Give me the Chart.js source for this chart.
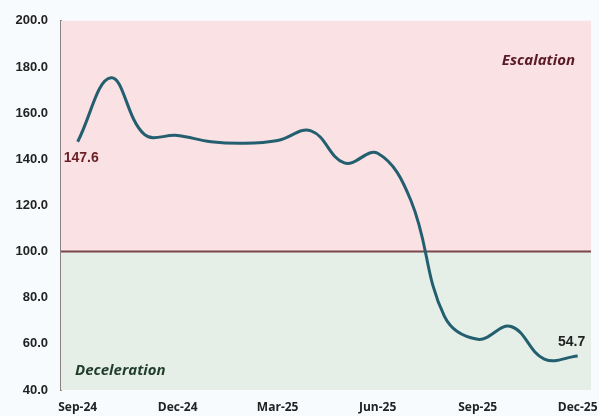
<!DOCTYPE html>
<html>
<head>
<meta charset="utf-8">
<script src="https://cdn.jsdelivr.net/npm/chart.js@4/dist/chart.umd.min.js"></script>
<style>
  html, body { margin: 0; padding: 0; background: #f7fbfd; }
  #wrap { width: 599px; height: 416px; position: relative; }
</style>
</head>
<body>
<div id="wrap"><canvas id="c" width="599" height="416"></canvas></div>
<script>
// Monthly index readings, Sep-24 through Dec-25
const months = ['Sep-24','Oct-24','Nov-24','Dec-24','Jan-25','Feb-25','Mar-25','Apr-25',
                'May-25','Jun-25','Jul-25','Aug-25','Sep-25','Oct-25','Nov-25','Dec-25'];
const indexValues = [147.6, 175.3, 150.8, 150.3, 147.6, 146.9, 148.1, 152.3,
                     138.4, 142.6, 122.0, 72.0, 62.0, 67.5, 53.4, 54.7];
const threshold = 100;
const yTicks = [40, 60, 80, 100, 120, 140, 160, 180, 200];
const xTickEvery = 3;
const zoneLabels = ['Escalation', 'Deceleration'];

// Shaded zones above/below the threshold plus the threshold line itself
const zonesPlugin = {
  id: 'zones',
  beforeDatasetsDraw(chart) {
    const { ctx, chartArea: a, scales: { y } } = chart;
    const yT = y.getPixelForValue(threshold);
    const yTop = y.getPixelForValue(y.max);
    const yBot = y.getPixelForValue(y.min);
    ctx.save();
    ctx.fillStyle = '#f9e1e4';
    ctx.fillRect(a.left, yTop, a.right - a.left, yT - yTop);
    ctx.fillStyle = '#e5efe8';
    ctx.fillRect(a.left, yT, a.right - a.left, yBot - yT);
    ctx.strokeStyle = '#7a4646';
    ctx.lineWidth = 2;
    ctx.beginPath();
    ctx.moveTo(a.left, yT);
    ctx.lineTo(a.right, yT);
    ctx.stroke();
    // zone captions
    ctx.font = 'italic bold 15px "Open Sans", sans-serif';
    ctx.textBaseline = 'middle';
    ctx.fillStyle = '#5a1a24';
    ctx.textAlign = 'right';
    ctx.fillText(zoneLabels[0], a.right - 16, yTop + 40);
    ctx.fillStyle = '#1f3d28';
    ctx.textAlign = 'left';
    ctx.fillText(zoneLabels[1], a.left + 14, yBot - 19);
    ctx.restore();
  },
  afterDatasetsDraw(chart) {
    // first and last value callouts
    const { ctx } = chart;
    const pts = chart.getDatasetMeta(0).data;
    const first = pts[0], last = pts[pts.length - 1];
    ctx.save();
    ctx.font = 'bold 14px "Liberation Sans", Arial, sans-serif';
    ctx.textBaseline = 'middle';
    ctx.fillStyle = '#6b1f25';
    ctx.textAlign = 'left';
    ctx.fillText(indexValues[0].toFixed(1), first.x - 14, first.y + 16);
    ctx.fillStyle = '#222';
    ctx.textAlign = 'center';
    ctx.fillText(indexValues[indexValues.length - 1].toFixed(1), last.x - 6, last.y - 14);
    ctx.restore();
  }
};

new Chart(document.getElementById('c'), {
  type: 'line',
  data: {
    datasets: [{
      data: indexValues.map((v, i) => ({ x: i, y: v })),
      borderColor: '#245f70',
      borderWidth: 3,
      pointRadius: 0,
      tension: 0.4,
      fill: false
    }]
  },
  options: {
    responsive: false,
    animation: false,
    layout: { padding: { top: 17, right: 8, left: 0, bottom: 0 } },
    plugins: { legend: { display: false }, tooltip: { enabled: false } },
    scales: {
      x: {
        type: 'linear',
        min: -0.5,
        max: months.length - 0.6,
        afterBuildTicks(s) {
          s.ticks = months.map((m, i) => i).filter(i => i % xTickEvery === 0).map(i => ({ value: i }));
        },
        grid: { display: false, drawTicks: false },
        border: { display: false },
        ticks: {
          autoSkip: false,
          maxRotation: 0,
          padding: 10,
          color: '#222',
          font: { family: '"Open Sans", sans-serif', weight: 'bold', size: 12 },
          callback: v => months[v]
        },
        afterFit(s) { s.height = 26; s.paddingLeft = 0; s.paddingRight = 0; }
      },
      y: {
        min: yTicks[0],
        max: yTicks[yTicks.length - 1],
        afterBuildTicks(s) { s.ticks = yTicks.map(v => ({ value: v })); },
        grid: { display: false, drawTicks: false },
        border: { display: true, color: '#8a8282', width: 2 },
        ticks: {
          padding: 13,
          color: '#222',
          font: { family: '"Liberation Sans", Arial, sans-serif', weight: 'bold', size: 13 },
          callback: v => Number(v).toFixed(1)
        },
        afterFit(s) { s.width = 61; }
      }
    }
  },
  plugins: [zonesPlugin]
});
</script>
</body>
</html>
